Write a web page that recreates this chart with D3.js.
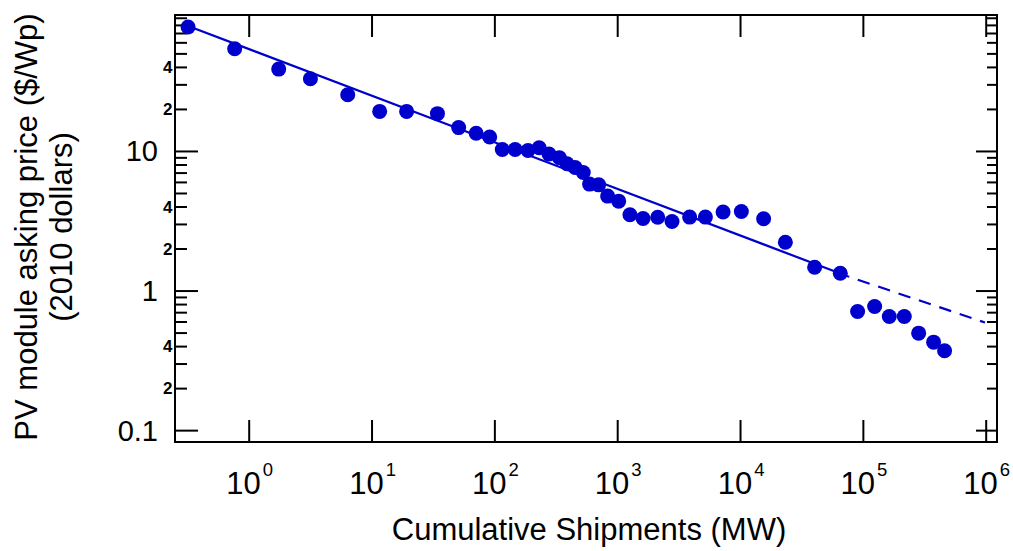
<!DOCTYPE html>
<html>
<head>
<meta charset="utf-8">
<script src="https://cdn.jsdelivr.net/npm/d3@7"></script>
<style>
  body { margin: 0; background: #fff; }
  text { font-family: Helvetica, Arial, "Liberation Sans", sans-serif; fill: #000; }
</style>
</head>
<body>
<script>

// cumulative shipments (MW) and module price ($/Wp, 2010 dollars)
var shipments = [0.321, 0.769, 1.755, 3.18, 6.40, 11.65, 19.3, 34.4, 51.2, 71.1, 91.6,
	116, 147.6, 188, 231.5, 278.6, 338.8, 390.7, 454.6, 529.2, 595.7, 706.3, 836,
	1028, 1270, 1623, 2138, 2794, 3889, 5224, 7278, 10250, 15560, 23390, 40480,
	65500, 90600, 124700, 164100, 217400, 284500, 376600, 462700]
var prices = [77.3, 54, 38.6, 32.9, 25.3, 19.2, 19.2, 18.5, 14.7, 13.4, 12.6,
	10.25, 10.25, 10.07, 10.54, 9.52, 8.94, 8.09, 7.62, 7.01, 5.79, 5.72, 4.75,
	4.37, 3.49, 3.28, 3.35, 3.12, 3.36, 3.36, 3.65, 3.68, 3.27, 2.22, 1.47,
	1.33, 0.707, 0.768, 0.651, 0.651, 0.495, 0.427, 0.370]

// experience curve: fitted part and extrapolation
var fitX = [0.321, 76100]
var fitY = [78.6, 1.26]
var extX = [76100, 987000]
var extY = [1.26, 0.59]

var xDecades = [1, 10, 100, 1000, 10000, 100000, 1000000]
var xExponents = ["0", "1", "2", "3", "4", "5", "6"]
var yMajor = [0.1, 1, 10]
var yMajorLabels = ["0.1", "1", "10"]
var yMinorLabelled = [0.2, 0.4, 2, 4, 20, 40]
var yMinorLabels = ["2", "4", "2", "4", "2", "4"]

var W = 1013, H = 551
var plotL = 175, plotR = 997, plotT = 15, plotB = 442
var blue = "#0000cc"

var svg = d3.select("body").append("svg")
	.attr("width", W)
	.attr("height", H)

var x = d3.scaleLog()
	.domain([Math.pow(10, -0.6), Math.pow(10, 6.092)])
	.range([plotL, plotR])
var y = d3.scaleLog()
	.domain([Math.pow(10, -1.085), Math.pow(10, 1.974)])
	.range([plotB, plotT])

// minor y ticks 2..9 in each decade inside the frame
var yMinor = []
yMajor.forEach(function(d){
	for (var k = 2; k <= 9; k++) {
		var v = d * k
		if (v < y.domain()[1]) yMinor.push(v)
	}
})

function styleAxis(g){
	g.select(".domain").remove()
	g.selectAll(".tick line").attr("stroke", "#000").attr("stroke-width", 2)
}

// ticks (all pointing inward)
svg.append("g").attr("transform", "translate(0," + plotB + ")")
	.call(d3.axisBottom(x).tickValues(xDecades).tickSize(-22).tickFormat(""))
	.call(styleAxis)
svg.append("g").attr("transform", "translate(0," + plotT + ")")
	.call(d3.axisTop(x).tickValues(xDecades).tickSize(-22).tickFormat(""))
	.call(styleAxis)
svg.append("g").attr("transform", "translate(" + plotL + ",0)")
	.call(d3.axisLeft(y).tickValues(yMajor).tickSize(-23).tickFormat(""))
	.call(styleAxis)
svg.append("g").attr("transform", "translate(" + plotL + ",0)")
	.call(d3.axisLeft(y).tickValues(yMinor).tickSize(-12).tickFormat(""))
	.call(styleAxis)
svg.append("g").attr("transform", "translate(" + plotR + ",0)")
	.call(d3.axisRight(y).tickValues(yMajor).tickSize(-21).tickFormat(""))
	.call(styleAxis)
svg.append("g").attr("transform", "translate(" + plotR + ",0)")
	.call(d3.axisRight(y).tickValues(yMinor).tickSize(-10).tickFormat(""))
	.call(styleAxis)

// frame
svg.append("rect")
	.attr("x", plotL).attr("y", plotT)
	.attr("width", plotR - plotL).attr("height", plotB - plotT)
	.attr("fill", "none").attr("stroke", "#000").attr("stroke-width", 2)

// x tick labels 10^n
var xl = svg.selectAll(".xlab")
	.data(xDecades)
	.enter()
	.append("text")
	.attr("class", "xlab")
	.attr("x", function(d){ return x(d) + 1 })
	.attr("y", 494)
	.attr("text-anchor", "middle")
	.style("font-size", "31px")
	.text("10")
xl.append("tspan")
	.attr("dx", 2)
	.attr("dy", -18)
	.style("font-size", "18.5px")
	.text(function(d, i){ return xExponents[i] })

// y tick labels
svg.selectAll(".ymaj")
	.data(yMajor)
	.enter()
	.append("text")
	.attr("class", "ymaj")
	.attr("x", 158)
	.attr("y", function(d){ return y(d) })
	.attr("dy", "0.36em")
	.attr("text-anchor", "end")
	.style("font-size", "29px")
	.text(function(d, i){ return yMajorLabels[i] })
svg.selectAll(".ymin")
	.data(yMinorLabelled)
	.enter()
	.append("text")
	.attr("class", "ymin")
	.attr("x", 172.5)
	.attr("y", function(d){ return y(d) })
	.attr("dy", "0.36em")
	.attr("text-anchor", "end")
	.style("font-size", "17px")
	.style("font-weight", "bold")
	.text(function(d, i){ return yMinorLabels[i] })

// axis titles
svg.append("text")
	.attr("x", 589).attr("y", 540)
	.attr("text-anchor", "middle")
	.style("font-size", "31px")
	.text("Cumulative Shipments (MW)")
svg.append("text")
	.attr("transform", "translate(37,227) rotate(-90)")
	.attr("text-anchor", "middle")
	.style("font-size", "31px")
	.text("PV module asking price ($/Wp)")
svg.append("text")
	.attr("transform", "translate(72,227) rotate(-90)")
	.attr("text-anchor", "middle")
	.style("font-size", "31px")
	.text("(2010 dollars)")

// fit lines
var line = d3.line()
	.x(function(d){ return x(d[0]) })
	.y(function(d){ return y(d[1]) })
svg.append("path")
	.datum(d3.zip(fitX, fitY))
	.attr("d", line)
	.attr("fill", "none").attr("stroke", blue).attr("stroke-width", 2.2)
svg.append("path")
	.datum(d3.zip(extX, extY))
	.attr("d", line)
	.attr("fill", "none").attr("stroke", blue).attr("stroke-width", 2.2)
	.attr("stroke-dasharray", "12.5,9")
	.attr("stroke-dashoffset", -10)

// data points
svg.selectAll("circle")
	.data(d3.zip(shipments, prices))
	.enter()
	.append("circle")
	.attr("cx", function(d){ return x(d[0]) })
	.attr("cy", function(d){ return y(d[1]) })
	.attr("r", 7.5)
	.attr("fill", blue)

</script>
</body>
</html>
